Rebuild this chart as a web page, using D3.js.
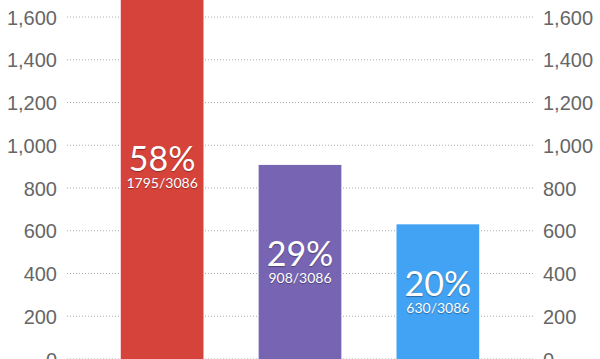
<!DOCTYPE html>
<html>
<head>
<meta charset="utf-8">
<script src="https://cdn.jsdelivr.net/npm/d3@7"></script>
<style>
  body { margin: 0; background: #fff; }
  svg { display: block; font-family: Lato, "Open Sans", sans-serif; }
  .tick text { fill: #666; font-size: 20px; }
  .lbl { fill: #fff; text-shadow: 0 1px 1px rgba(0,0,0,0.35); }
</style>
</head>
<body>
<div id="chart"></div>
<script>
const categories = ["A", "B", "C"];
const counts = [1795, 908, 630];
const total = 3086;
const percents = ["58%", "29%", "20%"];
const colors = ["#d6433a", "#7765b3", "#42a2f4"];
const ticks = [0, 200, 400, 600, 800, 1000, 1200, 1400, 1600];

const width = 600, height = 359;

const svg = d3.select("#chart")
  .append("svg")
  .attr("width", width)
  .attr("height", height);

// y: 0 sits at the bottom edge, 1600 near the top
const y = d3.scaleLinear()
  .domain([0, 1600])
  .range([359, 17]);

const x = d3.scaleBand()
  .domain(categories)
  .range([67, 533])
  .paddingInner(0.4)
  .paddingOuter(0.39);

// dotted grid
svg.append("g")
  .selectAll("line")
  .data(ticks)
  .join("line")
  .attr("x1", 67)
  .attr("x2", 533)
  .attr("y1", d => y(d))
  .attr("y2", d => y(d))
  .attr("stroke", "#aaa")
  .attr("stroke-dasharray", "1,2");

const fmt = d3.format(",");

// left + right axes
svg.append("g")
  .attr("transform", "translate(67,0)")
  .call(d3.axisLeft(y).tickValues(ticks).tickFormat(fmt).tickSize(0).tickPadding(10))
  .call(g => g.select(".domain").remove());

svg.append("g")
  .attr("transform", "translate(533,0)")
  .call(d3.axisRight(y).tickValues(ticks).tickFormat(fmt).tickSize(0).tickPadding(10))
  .call(g => g.select(".domain").remove());

svg.selectAll(".tick text").attr("dy", "0.35em");

// bars
svg.append("g")
  .selectAll("rect")
  .data(counts)
  .join("rect")
  .attr("x", (d, i) => x(categories[i]))
  .attr("y", d => y(d))
  .attr("width", x.bandwidth())
  .attr("height", d => y(0) - y(d))
  .attr("fill", (d, i) => colors[i]);

// labels centred in the bar
const lbl = svg.append("g")
  .selectAll("g")
  .data(counts)
  .join("g")
  .attr("transform", (d, i) => `translate(${x(categories[i]) + x.bandwidth() / 2},${(y(d) + y(0)) / 2})`);

lbl.append("text")
  .attr("class", "lbl")
  .attr("text-anchor", "middle")
  .attr("y", 4)
  .attr("font-size", 34)
  .text((d, i) => percents[i]);

lbl.append("text")
  .attr("class", "lbl")
  .attr("text-anchor", "middle")
  .attr("y", 21)
  .attr("font-size", 14)
  .text(d => d + "/" + total);
</script>
</body>
</html>
